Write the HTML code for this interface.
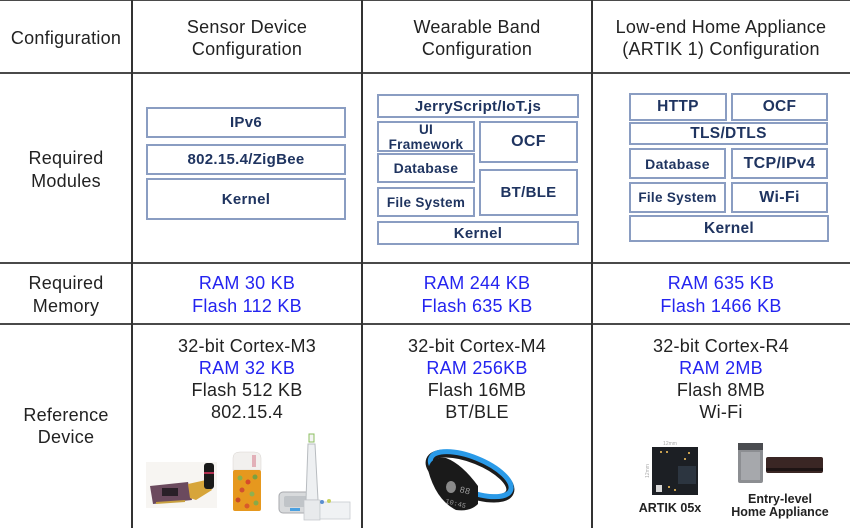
<!DOCTYPE html>
<html><head><meta charset="utf-8">
<style>
html,body{margin:0;padding:0;background:#fff;}
body{width:850px;height:528px;position:relative;overflow:hidden;font-family:"Liberation Sans","DejaVu Sans",sans-serif;}
.t{position:absolute;text-align:center;font-size:18px;line-height:22px;color:#222;letter-spacing:0.25px;white-space:nowrap;}
.b{color:#2424f0;}
.hl{position:absolute;left:0;width:850px;height:2px;background:#4a4a4a;}
.vl{position:absolute;top:0;height:528px;width:2px;background:#333;}
.m{position:absolute;box-sizing:border-box;border:2px solid #8a9dc2;background:#fff;color:#1f3460;font-weight:bold;display:flex;align-items:center;justify-content:center;text-align:center;white-space:nowrap;letter-spacing:0.3px;}
.lb{position:absolute;text-align:center;font-weight:bold;color:#222;font-size:12.5px;line-height:13px;white-space:nowrap;}
</style></head><body>

<!-- grid -->
<div class="hl" style="top:0;height:1px;"></div>
<div class="hl" style="top:72px;"></div>
<div class="hl" style="top:262px;"></div>
<div class="hl" style="top:323px;"></div>
<div class="vl" style="left:131px;"></div>
<div class="vl" style="left:361px;"></div>
<div class="vl" style="left:591px;"></div>

<!-- header -->
<div class="t" style="left:0;width:132px;top:27px;">Configuration</div>
<div class="t" style="left:132px;width:230px;top:16px;">Sensor Device<br>Configuration</div>
<div class="t" style="left:362px;width:230px;top:16px;">Wearable Band<br>Configuration</div>
<div class="t" style="left:592px;width:258px;top:16px;">Low-end Home Appliance<br>(ARTIK 1) Configuration</div>

<!-- left labels -->
<div class="t" style="left:0;width:132px;top:147px;line-height:23px;">Required<br>Modules</div>
<div class="t" style="left:0;width:132px;top:272px;line-height:23px;">Required<br>Memory</div>
<div class="t" style="left:0;width:132px;top:404px;">Reference<br>Device</div>

<!-- sensor modules -->
<div class="m" style="left:146px;top:107px;width:200px;height:31px;font-size:15px;">IPv6</div>
<div class="m" style="left:146px;top:144px;width:200px;height:31px;font-size:15px;">802.15.4/ZigBee</div>
<div class="m" style="left:146px;top:178px;width:200px;height:42px;font-size:15px;">Kernel</div>

<!-- wearable modules -->
<div class="m" style="left:377px;top:94px;width:202px;height:24px;font-size:15px;">JerryScript/IoT.js</div>
<div class="m" style="left:377px;top:121px;width:98px;height:31px;font-size:13.5px;line-height:15px;align-items:flex-start;overflow:hidden;"><div style="margin-top:-1px;">UI<br>Framework</div></div>
<div class="m" style="left:479px;top:121px;width:99px;height:42px;font-size:16px;">OCF</div>
<div class="m" style="left:377px;top:153px;width:98px;height:30px;font-size:14px;">Database</div>
<div class="m" style="left:479px;top:169px;width:99px;height:47px;font-size:15px;">BT/BLE</div>
<div class="m" style="left:377px;top:187px;width:98px;height:30px;font-size:13.5px;">File System</div>
<div class="m" style="left:377px;top:221px;width:202px;height:24px;font-size:15px;">Kernel</div>

<!-- home modules -->
<div class="m" style="left:629px;top:93px;width:98px;height:28px;font-size:15.5px;">HTTP</div>
<div class="m" style="left:731px;top:93px;width:97px;height:28px;font-size:15.5px;">OCF</div>
<div class="m" style="left:629px;top:122px;width:199px;height:23px;font-size:15.5px;">TLS/DTLS</div>
<div class="m" style="left:629px;top:148px;width:97px;height:31px;font-size:14px;">Database</div>
<div class="m" style="left:731px;top:148px;width:97px;height:31px;font-size:16px;">TCP/IPv4</div>
<div class="m" style="left:629px;top:182px;width:97px;height:31px;font-size:13.5px;">File System</div>
<div class="m" style="left:731px;top:182px;width:97px;height:31px;font-size:16px;">Wi-Fi</div>
<div class="m" style="left:629px;top:215px;width:200px;height:27px;font-size:15.5px;">Kernel</div>

<!-- memory -->
<div class="t b" style="left:132px;width:230px;top:272px;line-height:23px;">RAM 30 KB<br>Flash 112 KB</div>
<div class="t b" style="left:362px;width:230px;top:272px;line-height:23px;">RAM 244 KB<br>Flash 635 KB</div>
<div class="t b" style="left:592px;width:258px;top:272px;line-height:23px;">RAM 635 KB<br>Flash 1466 KB</div>

<!-- devices -->
<div class="t" style="left:132px;width:230px;top:335px;">32-bit Cortex-M3<br><span class="b">RAM 32 KB</span><br>Flash 512 KB<br>802.15.4</div>
<div class="t" style="left:362px;width:230px;top:335px;">32-bit Cortex-M4<br><span class="b">RAM 256KB</span><br>Flash 16MB<br>BT/BLE</div>
<div class="t" style="left:592px;width:258px;top:335px;">32-bit Cortex-R4<br><span class="b">RAM 2MB</span><br>Flash 8MB<br>Wi-Fi</div>

<!-- images -->
<svg width="850" height="528" style="position:absolute;left:0;top:0;" xmlns="http://www.w3.org/2000/svg">
  <!-- sensor board -->
  <rect x="146" y="462" width="71" height="46" fill="#f7f5f2"/>
  <polygon points="150,486 188,482 192,500 153,504" fill="#6b4a5e"/>
  <rect x="162" y="488" width="16" height="8" fill="#2a2028"/>
  <line x1="156" y1="503" x2="185" y2="501" stroke="#c8a040" stroke-width="2"/>
  <polygon points="188,484 206,480 212,490 196,500 190,498" fill="#d7a53a"/>
  <rect x="204" y="463" width="10" height="26" rx="3" fill="#1a1a1a"/>
  <rect x="204" y="472" width="10" height="2" fill="#b03050"/>
  <!-- pill bottle -->
  <path d="M233,458 Q233,452 240,452 L254,452 Q261,452 261,458 L261,470 L233,470 Z" fill="#f2f0ee" stroke="#d8d4d0" stroke-width="0.5"/>
  <rect x="252" y="455" width="4" height="12" fill="#e2b0b8"/>
  <rect x="233" y="470" width="28" height="41" rx="2" fill="#e6981e"/>
  <circle cx="240" cy="478" r="2.5" fill="#8ab04a"/><circle cx="248" cy="482" r="2.5" fill="#d64a2a"/>
  <circle cx="255" cy="477" r="2.5" fill="#7aa040"/><circle cx="242" cy="490" r="2.5" fill="#d05030"/>
  <circle cx="252" cy="494" r="2.5" fill="#90b050"/><circle cx="238" cy="500" r="2.5" fill="#c84a28"/>
  <circle cx="256" cy="503" r="2.5" fill="#88aa48"/><circle cx="247" cy="506" r="2.5" fill="#d85a2a"/>
  <!-- toothbrush set -->
  <rect x="279" y="492" width="34" height="21" rx="4" fill="#d8dadc" stroke="#a8aaae" stroke-width="1"/>
  <rect x="284" y="496" width="24" height="11" rx="2" fill="#c0c4c8"/>
  <rect x="290" y="508" width="10" height="3" fill="#4aa0e0"/>
  <rect x="309" y="434" width="5" height="8" fill="#f4f4f4" stroke="#8cbf60" stroke-width="1"/>
  <path d="M308,444 L315,444 L318,500 L306,500 Z" fill="#eef0f2" stroke="#b8bcc0" stroke-width="1"/>
  <rect x="304" y="500" width="16" height="20" fill="#e8eaec" stroke="#c0c4c8" stroke-width="0.7"/>
  <rect x="320" y="502" width="30" height="17" fill="#f0f2f4" stroke="#c8ccd0" stroke-width="0.8"/>
  <circle cx="322" cy="502" r="2" fill="#5a8ed0"/><circle cx="329" cy="501" r="2" fill="#c8d060"/>
  <!-- band -->
  <g transform="rotate(22 470 476)">
    <ellipse cx="470" cy="476" rx="43" ry="17" fill="none" stroke="#1c1c1c" stroke-width="8"/>
    <ellipse cx="470" cy="474" rx="43" ry="17" fill="none" stroke="#2a9ae8" stroke-width="5"/>
  </g>
  <path d="M428,470 Q430,456 446,458 Q462,464 478,486 L478,504 Q470,512 456,510 Q436,500 428,470 Z" fill="#1a1a1a"/>
  <ellipse cx="451" cy="487" rx="5" ry="6" fill="#8a8a8a"/>
  <text x="459" y="492" font-family="Liberation Mono, monospace" font-size="9" fill="#9a9a9a" transform="rotate(14 459 492)">88</text>
  <text x="445" y="503" font-family="Liberation Mono, monospace" font-size="7" fill="#9a9a9a" transform="rotate(14 445 503)">10:45</text>
  <!-- artik chip -->
  <text x="670" y="445" font-family="Liberation Sans, sans-serif" font-size="5" fill="#aaa" text-anchor="middle">12mm</text>
  <text x="649" y="471" font-family="Liberation Sans, sans-serif" font-size="5" fill="#aaa" text-anchor="middle" transform="rotate(-90 649 471)">12mm</text>
  <rect x="652" y="447" width="46" height="48" fill="#1c1f24"/>
  <rect x="678" y="466" width="18" height="18" fill="#2c3540"/>
  <rect x="656" y="485" width="6" height="7" fill="#d8d8d8"/>
  <g fill="#c8a050"><rect x="660" y="451" width="2" height="2"/><rect x="666" y="451" width="2" height="2"/><rect x="688" y="452" width="2" height="2"/><rect x="684" y="458" width="2" height="2"/><rect x="668" y="486" width="2" height="2"/><rect x="674" y="489" width="2" height="2"/></g>
  <!-- washer -->
  <rect x="738" y="443" width="25" height="40" rx="2" fill="#8c8e92"/>
  <rect x="738" y="443" width="25" height="7" fill="#4a4c50"/>
  <rect x="741" y="452" width="19" height="28" fill="#a6a8ac"/>
  <!-- AC -->
  <rect x="766" y="457" width="57" height="16" rx="2" fill="#3a2624"/>
  <rect x="766" y="468" width="57" height="3" fill="#1e1414"/>
</svg>

<div class="lb" style="left:620px;width:100px;top:502px;">ARTIK 05x</div>
<div class="lb" style="left:720px;width:120px;top:493px;">Entry-level<br>Home Appliance</div>

</body></html>
